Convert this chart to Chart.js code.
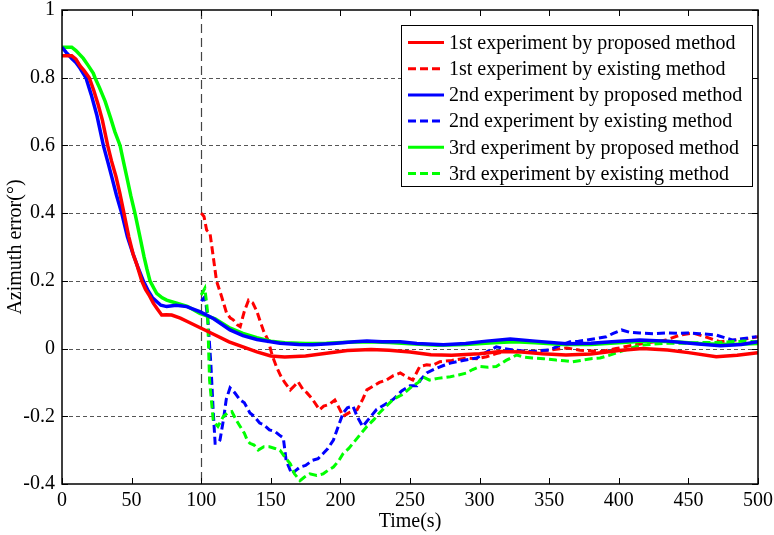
<!DOCTYPE html>
<html>
<head>
<meta charset="utf-8">
<script src="https://cdn.jsdelivr.net/npm/chart.js@4/dist/chart.umd.min.js"></script>
<style>
html,body{margin:0;padding:0;background:#fff;}
#wrap{width:774px;height:535px;}
</style>
</head>
<body>
<div id="wrap"><canvas id="c" width="774" height="535"></canvas></div>
<script>
// ---- data ----
const xTicks = [0,50,100,150,200,250,300,350,400,450,500];
const yTicks = [-0.4,-0.2,0,0.2,0.4,0.6,0.8,1];
const seriesLabels = [
  "1st experiment by proposed method",
  "1st experiment by existing method",
  "2nd experiment by proposed method",
  "2nd experiment by existing method",
  "3rd experiment by proposed method",
  "3rd experiment by existing method"
];
const switchTime = 100;

const p1T = [0,7,10,13,16,19.6,23,26,29,32.8,35.5,38.8,41.5,44.5,48,51,54,57.3,60,63,65.6,68,71.6,75,78.8,85,90,100,110,120,130,140,150,160,175,190,205,222,235,250,265,280,300,315,330,345,362,380,400,417,435,450,470,485,500];
const p1Y = [0.865,0.865,0.855,0.835,0.82,0.80,0.76,0.72,0.675,0.60,0.555,0.508,0.46,0.40,0.33,0.28,0.245,0.20,0.175,0.155,0.134,0.12,0.099,0.1,0.099,0.09,0.08,0.06,0.04,0.02,0.005,-0.01,-0.022,-0.025,-0.022,-0.014,-0.006,-0.003,-0.005,-0.01,-0.018,-0.02,-0.015,-0.009,-0.01,-0.015,-0.019,-0.016,-0.006,0.0,-0.004,-0.012,-0.024,-0.02,-0.012];

const e1T = [100,102,103.9,106.3,108.7,111,114.7,118.3,121,123,126,128,131,134,137,140,142,145,148,151,154,157,160,164,167,169.6,173,176,180,185,188,192,196,199,202,206,209,212,216,219,224,228,233,238,243,248,252,257,262,266,271.5,280,290.7,298,305,312,322,330,338,350,362.5,372,386.5,398,410,422,434,444,453,462,473,484,494,500];
const e1Y = [0.40,0.39,0.35,0.341,0.27,0.20,0.153,0.104,0.09,0.085,0.07,0.065,0.11,0.143,0.135,0.11,0.085,0.05,0.025,-0.02,-0.053,-0.08,-0.1,-0.122,-0.11,-0.098,-0.12,-0.131,-0.15,-0.181,-0.17,-0.165,-0.152,-0.175,-0.2,-0.19,-0.185,-0.181,-0.15,-0.122,-0.11,-0.1,-0.093,-0.08,-0.072,-0.085,-0.093,-0.053,-0.048,-0.05,-0.039,-0.035,-0.028,-0.03,-0.024,-0.015,-0.004,-0.008,-0.009,-0.005,0.002,-0.005,-0.009,0.0,0.01,0.018,0.025,0.04,0.046,0.035,0.02,0.025,0.03,0.035];

const p2T = [0,3,7,10,13,17.2,21,25,29.7,33,35.7,39,42.9,47,51,55,58.4,62,65,68,71,75.2,82,89.6,99,108.7,120.7,130,140,156.6,170,180,195,210,219,230,243,255,274,290,305,322,340,362.5,380,395,415,435,455,473,488,500];
const p2Y = [0.89,0.875,0.857,0.845,0.828,0.80,0.75,0.69,0.60,0.55,0.508,0.455,0.40,0.33,0.28,0.235,0.20,0.17,0.15,0.139,0.128,0.124,0.128,0.124,0.109,0.089,0.055,0.038,0.027,0.016,0.012,0.011,0.015,0.02,0.022,0.02,0.02,0.015,0.011,0.015,0.022,0.028,0.022,0.014,0.016,0.02,0.025,0.022,0.014,0.008,0.012,0.02];

const e2T = [100,102,103.5,105,107,108.7,110,112,113.5,116,118,120.7,124,128,131,135,138,142,145,149,153,156,159,161,165,168,171,175,180,184,187.6,191,195,198,202,205,209,212,216,220,226,232,238,244,250,255,258,262,268,274,279,288,298,305,312,318,324,331,338,344,350.5,358,365,371,377,384,391,396,402,408,415,425,434,442,449,458,470,476,482,490,499];
const e2Y = [0.14,0.15,0.13,0.075,-0.05,-0.19,-0.28,-0.28,-0.27,-0.21,-0.15,-0.116,-0.13,-0.152,-0.16,-0.19,-0.2,-0.22,-0.225,-0.24,-0.245,-0.255,-0.264,-0.33,-0.37,-0.36,-0.35,-0.345,-0.33,-0.325,-0.31,-0.295,-0.27,-0.235,-0.19,-0.175,-0.17,-0.2,-0.23,-0.21,-0.18,-0.165,-0.15,-0.125,-0.11,-0.11,-0.09,-0.072,-0.06,-0.05,-0.043,-0.035,-0.028,-0.01,0.005,0.0,-0.004,-0.007,-0.009,-0.006,-0.004,0.01,0.02,0.022,0.025,0.03,0.035,0.045,0.055,0.048,0.046,0.044,0.046,0.045,0.046,0.044,0.04,0.032,0.025,0.03,0.035];

const p3T = [0,7,10,15.3,19,22.5,23.7,27,31,35,38,41.7,44,46.5,49.5,52.4,56,59,61,63.2,66,68,72,75.2,82.4,90,99,110,120,130,140,150,160,175,190,205,220,235,250,270,290,310,325,340,360,380,400,420,440,460,480,500];
const p3Y = [0.89,0.89,0.88,0.857,0.835,0.813,0.80,0.77,0.73,0.68,0.64,0.60,0.555,0.508,0.45,0.40,0.33,0.27,0.235,0.20,0.178,0.163,0.15,0.143,0.134,0.125,0.104,0.088,0.062,0.045,0.032,0.022,0.017,0.015,0.016,0.019,0.02,0.018,0.014,0.01,0.012,0.017,0.02,0.017,0.012,0.012,0.017,0.022,0.02,0.014,0.012,0.015];

const e3T = [100,102.6,103.9,104.5,106,108.6,110,112,114,116,119,122,125,128,131,133,135,138,141,145,149,153,156.6,160,164,167,171,174,178,183,187.6,191,195,199,202,206,209,214,219,224,228,233,238,245,252,256,259,264,270,279,285,290.7,295,300,306,312,319,326.6,332,338,346,355,361,367,374,380,386.5,393,401,408,415,425,434,449,460,470,480,490,500];
const e3Y = [0.158,0.178,0.134,0.11,-0.093,-0.21,-0.22,-0.23,-0.215,-0.2,-0.19,-0.186,-0.21,-0.23,-0.25,-0.27,-0.28,-0.285,-0.30,-0.29,-0.29,-0.295,-0.30,-0.32,-0.34,-0.37,-0.39,-0.38,-0.37,-0.375,-0.37,-0.36,-0.35,-0.33,-0.31,-0.295,-0.28,-0.255,-0.23,-0.21,-0.19,-0.17,-0.15,-0.135,-0.11,-0.1,-0.083,-0.093,-0.088,-0.083,-0.078,-0.072,-0.062,-0.053,-0.055,-0.053,-0.035,-0.019,-0.025,-0.028,-0.03,-0.034,-0.036,-0.039,-0.034,-0.03,-0.028,-0.02,-0.009,0.0,0.01,0.013,0.016,0.016,0.018,0.018,0.02,0.022,0.02];

// ---- chart ----
const FONT = '"Liberation Serif", "Times New Roman", serif';
const pts = (t, v) => t.map((x, i) => ({x: x, y: v[i]}));
const RED = '#ff0000', BLUE = '#0000ff', GREEN = '#00ff00';
const DASH = [8, 4];

function ds(label, t, v, color, dashed, order) {
  return {
    label: label, data: pts(t, v), borderColor: color, backgroundColor: color,
    borderWidth: dashed ? 3 : 3.5, borderDash: dashed ? DASH : [], pointRadius: 0,
    tension: 0, fill: false, order: order
  };
}

const decor = {
  id: 'decor',
  beforeDatasetsDraw(chart) {
    const {ctx, chartArea: a, scales: {x, y}} = chart;
    ctx.save();
    ctx.strokeStyle = '#555';
    ctx.lineWidth = 1;
    ctx.setLineDash([4, 3]);
    yTicks.forEach(v => {
      if (v <= y.min || v >= y.max) return;
      const py = Math.round(y.getPixelForValue(v)) + 0.5;
      ctx.beginPath(); ctx.moveTo(a.left, py); ctx.lineTo(a.right, py); ctx.stroke();
    });
    ctx.strokeStyle = '#444';
    ctx.lineWidth = 1.2;
    ctx.setLineDash([9, 5]);
    const px = Math.round(x.getPixelForValue(switchTime)) + 0.5;
    ctx.beginPath(); ctx.moveTo(px, a.top); ctx.lineTo(px, a.bottom); ctx.stroke();
    ctx.restore();
  },
  afterDatasetsDraw(chart) {
    const {ctx, chartArea: a, scales: {x, y}} = chart;
    ctx.save();
    ctx.setLineDash([]);
    ctx.strokeStyle = '#000';
    ctx.lineWidth = 1;
    const TL = 6;
    xTicks.forEach(v => {
      const px = Math.round(x.getPixelForValue(v)) + 0.5;
      ctx.beginPath();
      ctx.moveTo(px, a.bottom); ctx.lineTo(px, a.bottom - TL);
      ctx.moveTo(px, a.top); ctx.lineTo(px, a.top + TL);
      ctx.stroke();
    });
    yTicks.forEach(v => {
      const py = Math.round(y.getPixelForValue(v)) + 0.5;
      ctx.beginPath();
      ctx.moveTo(a.left, py); ctx.lineTo(a.left + TL, py);
      ctx.moveTo(a.right, py); ctx.lineTo(a.right - TL, py);
      ctx.stroke();
    });
    ctx.lineWidth = 1.5;
    ctx.strokeRect(a.left, a.top, a.right - a.left, a.bottom - a.top);

    // legend
    const L = {x: 401, y: 25, w: 351, h: 161};
    ctx.fillStyle = '#fff';
    ctx.fillRect(L.x, L.y, L.w, L.h);
    ctx.lineWidth = 1;
    ctx.strokeStyle = '#000';
    ctx.strokeRect(L.x + 0.5, L.y + 0.5, L.w, L.h);
    ctx.font = '20px ' + FONT;
    ctx.textBaseline = 'middle';
    ctx.textAlign = 'left';
    chart.data.datasets.forEach((d, i) => {
      const cy = L.y + 17.5 + i * 26.2;
      ctx.strokeStyle = d.borderColor;
      ctx.lineWidth = 3;
      ctx.setLineDash(d.borderDash && d.borderDash.length ? [8, 4] : []);
      ctx.beginPath(); ctx.moveTo(408, cy); ctx.lineTo(444, cy); ctx.stroke();
      ctx.setLineDash([]);
      ctx.fillStyle = '#000';
      ctx.fillText(d.label, 449, cy + 1);
    });
    ctx.restore();
  }
};

new Chart(document.getElementById('c'), {
  type: 'line',
  data: {
    datasets: [
      ds(seriesLabels[0], p1T, p1Y, RED, false, 1),
      ds(seriesLabels[1], e1T, e1Y, RED, true, 6),
      ds(seriesLabels[2], p2T, p2Y, BLUE, false, 2),
      ds(seriesLabels[3], e2T, e2Y, BLUE, true, 5),
      ds(seriesLabels[4], p3T, p3Y, GREEN, false, 3),
      ds(seriesLabels[5], e3T, e3Y, GREEN, true, 4)
    ]
  },
  options: {
    responsive: false,
    animation: false,
    events: [],
    layout: {padding: {left: 0, right: 16, top: 10, bottom: 0}},
    plugins: {legend: {display: false}, tooltip: {enabled: false}},
    scales: {
      x: {
        type: 'linear', min: 0, max: 500,
        afterBuildTicks: s => { s.ticks = xTicks.map(v => ({value: v})); },
        afterFit: s => { s.height = 51; s.paddingLeft = 0; s.paddingRight = 0; },
        grid: {display: false, drawTicks: false},
        border: {display: false},
        ticks: {color: '#000', padding: 5, font: {family: FONT, size: 20}, maxRotation: 0, autoSkip: false},
        title: {display: true, text: 'Time(s)', color: '#000', font: {family: FONT, size: 20}, padding: {top: 0, bottom: 1}}
      },
      y: {
        type: 'linear', min: -0.4, max: 1,
        afterBuildTicks: s => { s.ticks = yTicks.map(v => ({value: v})); },
        afterFit: s => { s.width = 62; s.paddingTop = 0; s.paddingBottom = 0; },
        grid: {display: false, drawTicks: false},
        border: {display: false},
        ticks: {color: '#000', padding: 7, font: {family: FONT, size: 20}, autoSkip: false,
          callback: v => String(Number(Number(v).toFixed(1)))},
        title: {display: true, text: 'Azimuth error(°)', color: '#000', font: {family: FONT, size: 20}, padding: {top: 4, bottom: 0}}
      }
    }
  },
  plugins: [decor]
});
</script>
</body>
</html>
